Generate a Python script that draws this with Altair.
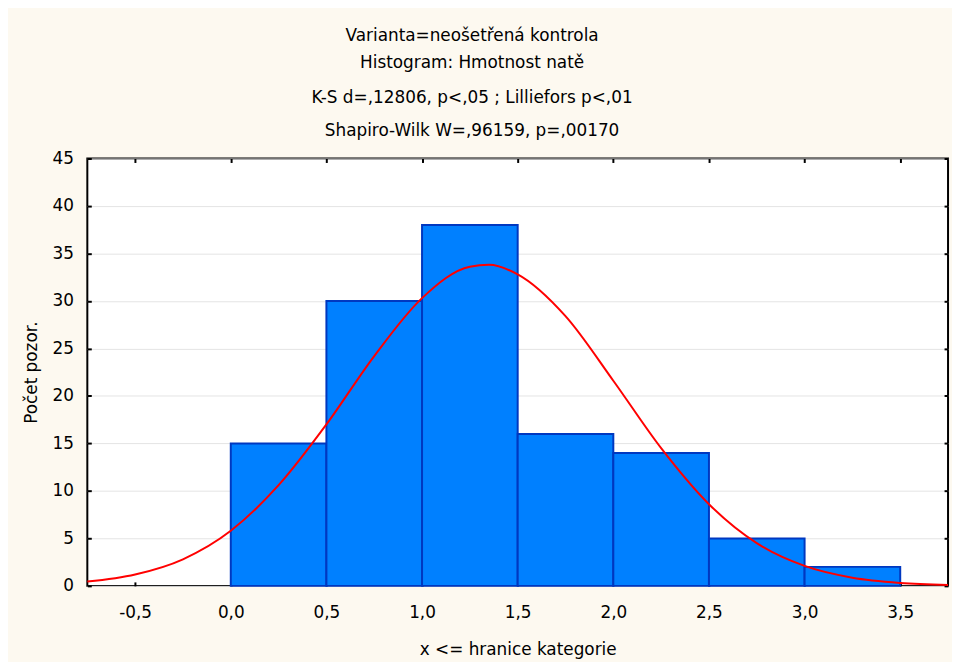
import altair as alt
import pandas as pd

# Histogram bins (upper bound = "x <= hranice kategorie")
bin_start = [0.0, 0.5, 1.0, 1.5, 2.0, 2.5, 3.0]
bin_end = [0.5, 1.0, 1.5, 2.0, 2.5, 3.0, 3.5]
counts = [15, 30, 38, 16, 14, 5, 2]

# Fitted normal curve
curve_x = [-0.75, -0.5, -0.25, 0.0, 0.25, 0.5, 0.75, 1.0, 1.25, 1.35, 1.5,
           1.75, 2.0, 2.25, 2.5, 2.75, 3.0, 3.25, 3.5, 3.75]
curve_y = [0.45, 1.2, 2.8, 5.8, 10.6, 17.0, 24.2, 30.3, 33.6, 33.8, 32.8,
           28.4, 21.6, 14.5, 8.6, 4.5, 2.1, 0.86, 0.31, 0.1]

x_ticks = [-0.5, 0.0, 0.5, 1.0, 1.5, 2.0, 2.5, 3.0, 3.5]
y_ticks = [0, 5, 10, 15, 20, 25, 30, 35, 40, 45]

title_lines = ["Varianta=neošetřená kontrola", "Histogram: Hmotnost natě"]
subtitle_lines = ["K-S d=,12806, p<,05 ; Lilliefors p<,01",
                  "Shapiro-Wilk W=,96159, p=,00170"]

bars = pd.DataFrame({"start": bin_start, "end": bin_end, "count": counts})
curve = pd.DataFrame({"x": curve_x, "y": curve_y})

FONT = "DejaVu Sans"
FS = 17
xscale = alt.Scale(domain=[-0.75, 3.75], nice=False, zero=False)
yscale = alt.Scale(domain=[0, 45], nice=False)
xlab = "replace(replace(format(datum.value, '.1f'), '.', ','), '\u2212', '-')"

main_x = alt.Axis(values=x_ticks, labelExpr=xlab, title="x <= hranice kategorie",
                  orient="bottom", ticks=False, domain=False, grid=False,
                  labelFont=FONT, labelFontSize=FS, labelColor="black",
                  labelPadding=19, titleFont=FONT, titleFontSize=FS,
                  titleFontWeight="normal", titleColor="black", titlePadding=21)
main_y = alt.Axis(values=y_ticks, title="Počet pozor.", orient="left",
                  ticks=False, domain=False, grid=True, gridColor="#E4E4E4",
                  gridWidth=1, labelFont=FONT, labelFontSize=FS,
                  labelColor="black", labelPadding=14, titleFont=FONT,
                  titleFontSize=FS, titleFontWeight="normal",
                  titleColor="black", titlePadding=12)

bar_layer = alt.Chart(bars).mark_bar(
    color="#0080FF", stroke="#0038C0", strokeWidth=2
).encode(
    x=alt.X("start:Q", scale=xscale, axis=main_x),
    x2="end:Q",
    y=alt.Y("count:Q", scale=yscale, axis=main_y),
    y2=alt.datum(0),
)

curve_layer = alt.Chart(curve).mark_line(
    color="#FF0000", strokeWidth=2, interpolate="monotone"
).encode(
    x=alt.X("x:Q", scale=xscale, axis=None),
    y=alt.Y("y:Q", scale=yscale, axis=None),
)


def tick_axis(orient, values):
    return alt.Axis(values=values, orient=orient, labels=False, ticks=True,
                    tickSize=4, tickWidth=2, tickColor="black", offset=-4,
                    domain=False, grid=False, title=None)


ticks_tr = alt.Chart(bars).mark_point(opacity=0).encode(
    x=alt.X("start:Q", scale=xscale, axis=tick_axis("top", x_ticks)),
    y=alt.Y("count:Q", scale=yscale, axis=tick_axis("right", y_ticks)),
)
ticks_bl = alt.Chart(bars).mark_point(opacity=0).encode(
    x=alt.X("start:Q", scale=xscale, axis=tick_axis("bottom", x_ticks)),
    y=alt.Y("count:Q", scale=yscale, axis=tick_axis("left", y_ticks)),
)

chart = alt.layer(bar_layer, curve_layer, ticks_tr, ticks_bl).resolve_axis(
    x="independent", y="independent"
).properties(
    width=868,
    height=431,
    background="#FDF9F0",
    padding={"left": 80, "top": 149, "right": 4, "bottom": 74},
    autosize=alt.AutoSizeParams(type="none"),
    title=alt.TitleParams(
        text=title_lines, subtitle=subtitle_lines, anchor="middle",
        frame="group", dx=-46, offset=10, font=FONT, fontSize=FS,
        fontWeight="normal", color="black", lineHeight=27,
        subtitleFont=FONT, subtitleFontSize=FS, subtitleColor="black",
        subtitleLineHeight=33, subtitlePadding=18,
    ),
).configure_view(
    stroke="black", strokeWidth=2, fill="white"
)

chart.save("out.html", embed_options={"renderer": "svg", "actions": False})
